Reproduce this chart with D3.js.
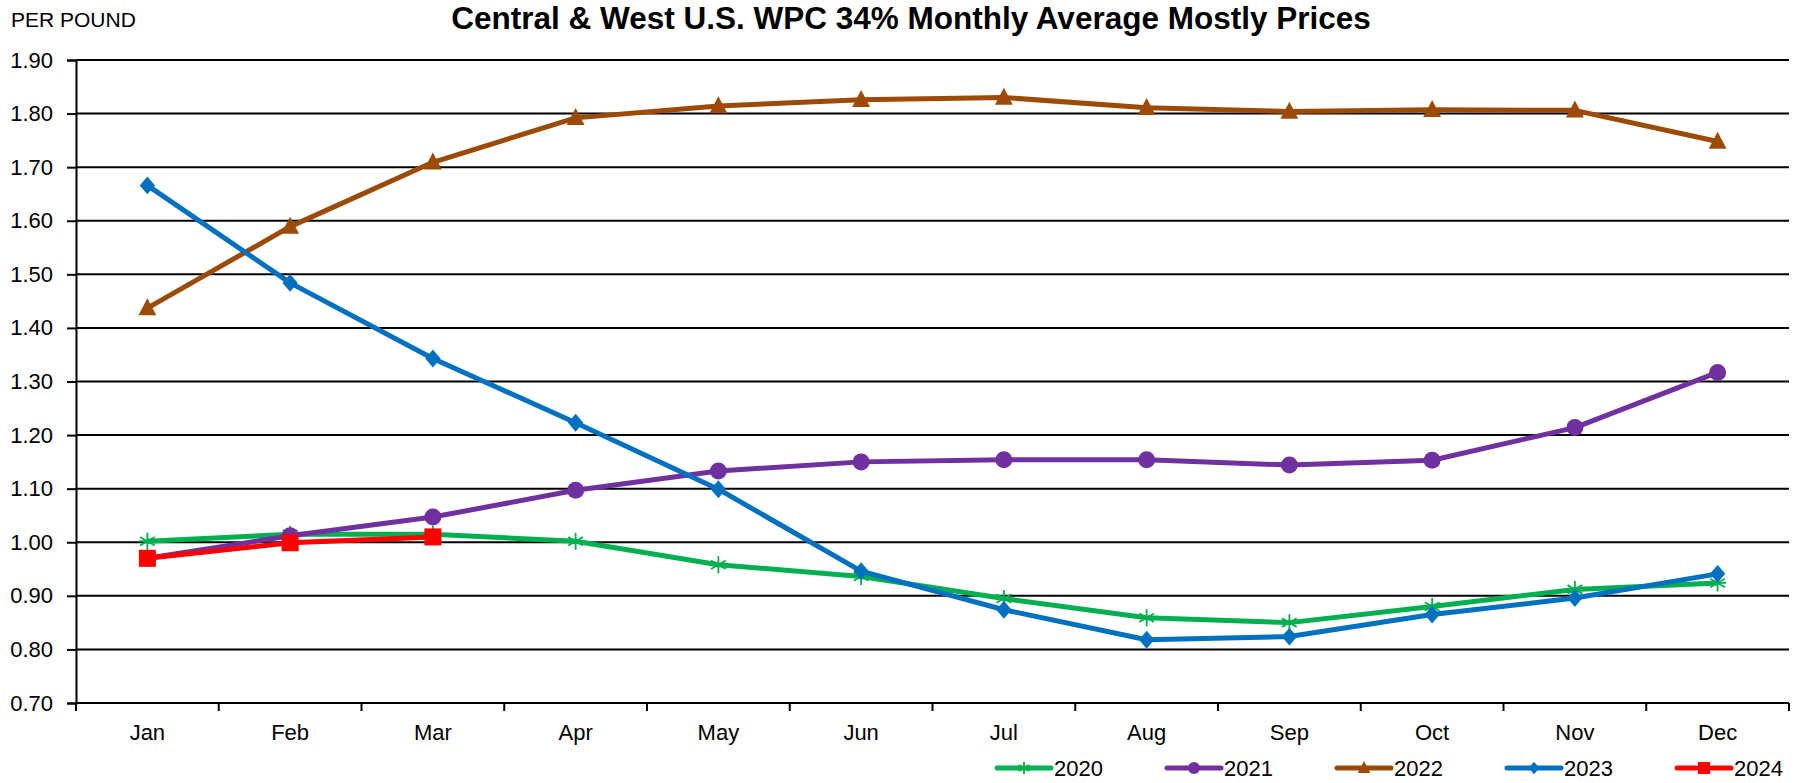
<!DOCTYPE html>
<html>
<head>
<meta charset="utf-8">
<script src="https://cdn.jsdelivr.net/npm/d3@7"></script>
<style>
body { margin: 0; background: #fff; }
text { font-family: "Liberation Sans", Arial, sans-serif; }
</style>
</head>
<body>
<div id="chart"></div>
<script>
const months = ["Jan", "Feb", "Mar", "Apr", "May", "Jun", "Jul", "Aug", "Sep", "Oct", "Nov", "Dec"];
const yTicks = [0.70, 0.80, 0.90, 1.00, 1.10, 1.20, 1.30, 1.40, 1.50, 1.60, 1.70, 1.80, 1.90];

const v2020 = [1.002, 1.015, 1.015, 1.002, 0.958, 0.936, 0.895, 0.859, 0.850, 0.880, 0.912, 0.924];
const v2021 = [0.970, 1.012, 1.047, 1.097, 1.133, 1.150, 1.154, 1.154, 1.144, 1.153, 1.214, 1.317];
const v2022 = [1.437, 1.589, 1.709, 1.792, 1.814, 1.826, 1.830, 1.811, 1.804, 1.807, 1.806, 1.748];
const v2023 = [1.666, 1.484, 1.343, 1.223, 1.099, 0.946, 0.874, 0.818, 0.824, 0.865, 0.896, 0.941];
const v2024 = [0.970, 0.999, 1.010];

const series = [
	{ name: "2020", values: v2020, color: "#00B050", marker: "star" },
	{ name: "2021", values: v2021, color: "#7030A0", marker: "circle" },
	{ name: "2022", values: v2022, color: "#9C4A06", marker: "triangle" },
	{ name: "2023", values: v2023, color: "#0070C0", marker: "diamond" },
	{ name: "2024", values: v2024, color: "#FF0000", marker: "square" }
];

const W = 1802, H = 783;
const margin = { top: 60, right: 13, bottom: 80, left: 76 };

const svg = d3.select("#chart").append("svg")
	.attr("width", W)
	.attr("height", H);

const x = d3.scaleBand()
	.domain(months)
	.range([margin.left, W - margin.right]);

const y = d3.scaleLinear()
	.domain([0.70, 1.90])
	.range([H - margin.bottom, margin.top]);

// gridlines
svg.append("g")
	.selectAll("line")
	.data(yTicks)
	.enter()
	.append("line")
	.attr("x1", margin.left)
	.attr("x2", W - margin.right)
	.attr("y1", (d) => y(d))
	.attr("y2", (d) => y(d))
	.attr("stroke", "#000")
	.attr("stroke-width", 2);

// y axis
const yAxis = svg.append("g")
	.attr("transform", `translate(${margin.left},0)`)
	.call(d3.axisLeft(y).tickValues(yTicks).tickFormat(d3.format(".2f")).tickSize(9).tickPadding(14));
yAxis.select(".domain").attr("stroke-width", 2);
yAxis.selectAll(".tick line").attr("stroke-width", 2);
yAxis.selectAll("text").attr("font-size", 22).attr("fill", "#000");

// x axis: ticks sit between categories
const xAxis = svg.append("g")
	.attr("transform", `translate(0,${H - margin.bottom})`);
xAxis.append("line")
	.attr("x1", margin.left)
	.attr("x2", W - margin.right)
	.attr("stroke", "#000")
	.attr("stroke-width", 2);
xAxis.selectAll(".xt")
	.data(months.concat(["end"]))
	.enter()
	.append("line")
	.attr("x1", (d, i) => margin.left + i * x.step())
	.attr("x2", (d, i) => margin.left + i * x.step())
	.attr("y1", 0)
	.attr("y2", 8)
	.attr("stroke", "#000")
	.attr("stroke-width", 2);
xAxis.selectAll(".xl")
	.data(months)
	.enter()
	.append("text")
	.attr("x", (d) => x(d) + x.bandwidth() / 2)
	.attr("y", 37)
	.attr("text-anchor", "middle")
	.attr("font-size", 22)
	.text((d) => d);

function drawMarker(g, type, color, s) {
	const h = s / 2;
	if (type == "circle") {
		g.append("circle").attr("r", h).attr("fill", color);
	}
	if (type == "square") {
		g.append("rect").attr("x", -h).attr("y", -h).attr("width", s).attr("height", s).attr("fill", color);
	}
	if (type == "diamond") {
		g.append("path").attr("d", `M0,${-h * 1.05} L${h * 0.9},0 L0,${h * 1.05} L${-h * 0.9},0 Z`).attr("fill", color);
	}
	if (type == "triangle") {
		g.append("path")
			.attr("d", `M0,${-h * 1.15} L${h * 1.05},${h * 0.85} L${-h * 1.05},${h * 0.85} Z`)
			.attr("fill", color);
	}
	if (type == "star") {
		let d = "";
		for (let k = 0; k < 3; k++) {
			const a = k * Math.PI / 3 + Math.PI / 2;
			d += `M${-h * Math.cos(a)},${-h * Math.sin(a)} L${h * Math.cos(a)},${h * Math.sin(a)} `;
		}
		d += `M${-h},0 L${h},0`;
		g.append("path").attr("d", d).attr("stroke", color).attr("stroke-width", 1.8).attr("fill", "none");
	}
}

const line = d3.line()
	.x((d, i) => x(months[i]) + x.bandwidth() / 2)
	.y((d) => y(d));

series.forEach((s) => {
	const g = svg.append("g");
	g.append("path")
		.attr("d", line(s.values))
		.attr("fill", "none")
		.attr("stroke", s.color)
		.attr("stroke-width", 5)
		.attr("stroke-linejoin", "round");
	s.values.forEach((v, i) => {
		const m = g.append("g")
			.attr("transform", `translate(${x(months[i]) + x.bandwidth() / 2},${y(v)})`);
		drawMarker(m, s.marker, s.color, 17);
	});
});

// legend
const legend = svg.append("g").attr("transform", `translate(997,768)`);
series.forEach((s, i) => {
	const g = legend.append("g").attr("transform", `translate(${i * 170},0)`);
	g.append("line")
		.attr("x1", 0)
		.attr("x2", 54)
		.attr("stroke", s.color)
		.attr("stroke-width", 5)
		.attr("stroke-linecap", "round");
	const m = g.append("g").attr("transform", "translate(27,0)");
	drawMarker(m, s.marker, s.color, 12);
	g.append("text")
		.attr("x", 57)
		.attr("y", 8)
		.attr("font-size", 22)
		.text(s.name);
});

// titles
svg.append("text")
	.attr("x", 911)
	.attr("y", 29)
	.attr("text-anchor", "middle")
	.attr("font-size", 31.5)
	.attr("font-weight", "bold")
	.text("Central & West U.S. WPC 34% Monthly Average Mostly Prices");

svg.append("text")
	.attr("x", 11)
	.attr("y", 27)
	.attr("font-size", 21)
	.text("PER POUND");
</script>
</body>
</html>
